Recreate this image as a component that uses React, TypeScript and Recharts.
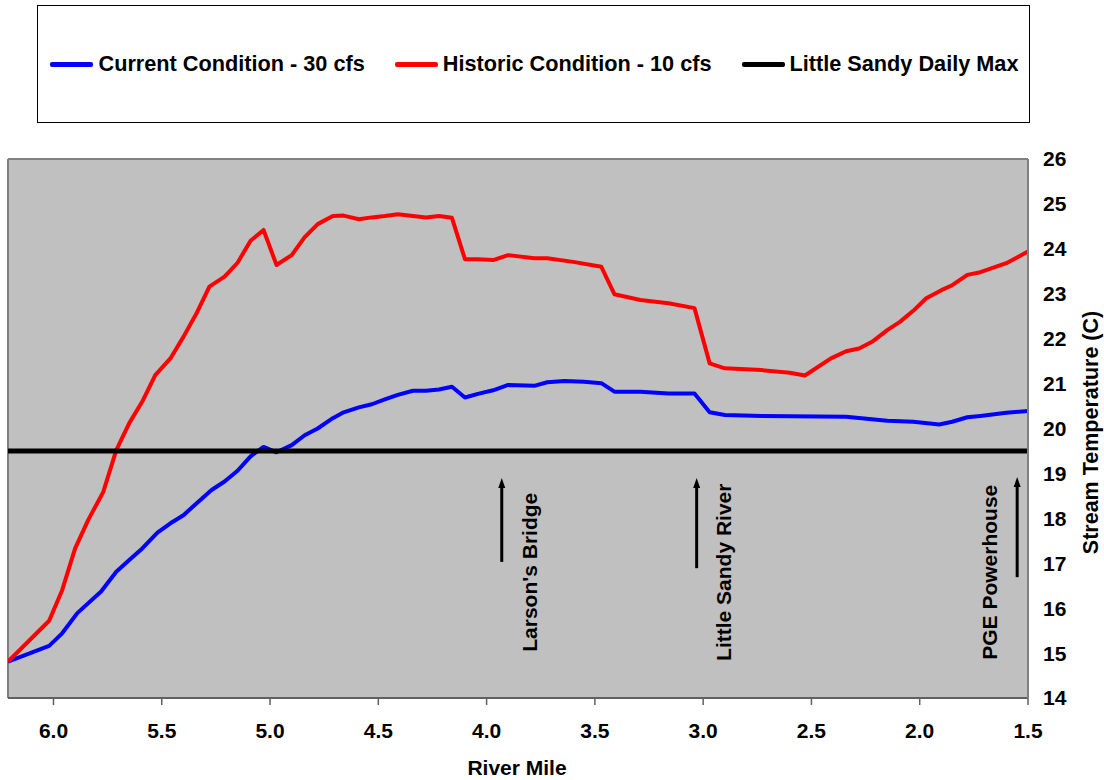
import React from 'react';
import { LineChart, Line, XAxis, YAxis, CartesianGrid, ReferenceLine, ReferenceDot, Legend } from 'recharts';

const seriesNames = ['Current Condition - 30 cfs', 'Historic Condition - 10 cfs', 'Little Sandy Daily Max'];
const seriesColors = ['#0000FF', '#FF0000', '#000000'];

const currentMiles = [6.21, 6.02, 5.96, 5.89, 5.78, 5.71, 5.65, 5.59, 5.52, 5.46, 5.40, 5.34, 5.27, 5.21, 5.15, 5.09, 5.03, 4.97, 4.90, 4.84, 4.78, 4.71, 4.66, 4.59, 4.53, 4.47, 4.41, 4.34, 4.28, 4.22, 4.16, 4.10, 4.04, 3.97, 3.90, 3.78, 3.72, 3.64, 3.55, 3.47, 3.41, 3.29, 3.16, 3.04, 2.97, 2.90, 2.73, 2.34, 2.15, 2.03, 1.91, 1.85, 1.78, 1.72, 1.60, 1.50];
const currentTemps = [14.81, 15.16, 15.44, 15.89, 16.37, 16.81, 17.07, 17.33, 17.68, 17.89, 18.07, 18.33, 18.63, 18.82, 19.06, 19.38, 19.59, 19.47, 19.63, 19.85, 20.00, 20.23, 20.36, 20.47, 20.54, 20.65, 20.75, 20.84, 20.84, 20.87, 20.93, 20.69, 20.77, 20.85, 20.97, 20.95, 21.03, 21.06, 21.04, 21.01, 20.82, 20.82, 20.78, 20.78, 20.36, 20.30, 20.28, 20.26, 20.17, 20.15, 20.09, 20.15, 20.25, 20.28, 20.35, 20.39];

const historicMiles = [6.21, 6.02, 5.96, 5.90, 5.84, 5.77, 5.71, 5.65, 5.59, 5.53, 5.46, 5.40, 5.34, 5.28, 5.21, 5.15, 5.09, 5.03, 4.97, 4.90, 4.84, 4.78, 4.71, 4.66, 4.59, 4.53, 4.47, 4.41, 4.34, 4.28, 4.22, 4.16, 4.10, 4.04, 3.97, 3.90, 3.78, 3.72, 3.60, 3.47, 3.41, 3.29, 3.16, 3.04, 2.97, 2.90, 2.73, 2.60, 2.53, 2.41, 2.34, 2.28, 2.22, 2.15, 2.09, 2.03, 1.97, 1.90, 1.85, 1.78, 1.72, 1.60, 1.50];
const historicTemps = [14.81, 15.72, 16.40, 17.33, 17.96, 18.59, 19.52, 20.12, 20.60, 21.19, 21.56, 22.04, 22.56, 23.16, 23.38, 23.69, 24.18, 24.42, 23.64, 23.86, 24.26, 24.55, 24.73, 24.74, 24.66, 24.70, 24.73, 24.77, 24.73, 24.70, 24.73, 24.69, 23.77, 23.77, 23.75, 23.86, 23.79, 23.79, 23.71, 23.60, 22.99, 22.86, 22.79, 22.68, 21.45, 21.34, 21.30, 21.24, 21.18, 21.56, 21.72, 21.78, 21.93, 22.19, 22.38, 22.62, 22.90, 23.08, 23.19, 23.42, 23.48, 23.68, 23.94];

const dailyMaxMiles = [6.21, 1.5];
const dailyMaxTemps = [19.5, 19.5];

const xTicks = [6.0, 5.5, 5.0, 4.5, 4.0, 3.5, 3.0, 2.5, 2.0, 1.5];
const yTicks = [14, 15, 16, 17, 18, 19, 20, 21, 22, 23, 24, 25, 26];

const landmarkNames = ["Larson's Bridge", 'Little Sandy River', 'PGE Powerhouse'];
const landmarkMiles = [3.93, 3.03, 1.55];
const arrowFromTemps = [17.03, 16.89, 16.69];
const arrowToTemps = [18.9, 18.9, 18.92];
const labelMiles = [3.80, 2.905, 1.68];
const labelTemp = 16.8;

const zip = (xs: number[], ys: number[]) => xs.map((m, i) => ({ mile: m, temp: ys[i] }));
const currentData = zip(currentMiles, currentTemps);
const historicData = zip(historicMiles, historicTemps);
const dailyMaxData = zip(dailyMaxMiles, dailyMaxTemps);

const FONT = '"Liberation Sans", Arial, sans-serif';

const ArrowShape = (props: any) => {
  const { x1, y1, y2 } = props;
  const x = x1;
  const bottom = Math.max(y1, y2);
  const top = Math.min(y1, y2);
  return (
    <g>
      <line x1={x} y1={bottom} x2={x} y2={top + 8} stroke="#000" strokeWidth={3} />
      <polygon points={`${x},${top} ${x - 3.5},${top + 10} ${x + 3.5},${top + 10}`} fill="#000" />
    </g>
  );
};

const makeLabelShape = (text: string) => (props: any) => {
  const { cx, cy } = props;
  return (
    <text
      x={cx}
      y={cy}
      transform={`rotate(-90, ${cx}, ${cy})`}
      textAnchor="middle"
      dominantBaseline="central"
      fontFamily={FONT}
      fontWeight="bold"
      fontSize={21}
      fill="#000"
    >
      {text}
    </text>
  );
};

const renderLegend = (props: any) => {
  const payload = props.payload || [];
  return (
    <div
      style={{
        width: '100%',
        height: '100%',
        display: 'flex',
        alignItems: 'center',
        justifyContent: 'center',
        boxSizing: 'border-box',
        border: '1px solid #000',
        fontFamily: FONT,
        fontWeight: 'bold',
        fontSize: 21.7,
        color: '#000',
        paddingLeft: 2,
      }}
    >
      {payload.map((entry: any, i: number) => (
        <div key={i} style={{ display: 'flex', alignItems: 'center', marginRight: i < payload.length - 1 ? 30 : 0 }}>
          <div style={{ width: 43, height: 5, background: entry.color, borderRadius: 2, marginRight: 5 }} />
          <span>{entry.value}</span>
        </div>
      ))}
    </div>
  );
};

export default function App() {
  return (
    <div style={{ position: 'absolute', left: 0, top: 0, width: 1104, height: 780, background: '#fff' }}>
      <LineChart width={1104} height={780} margin={{ top: 159, right: 0, bottom: 0, left: 8 }}>
        <CartesianGrid horizontal={false} vertical={false} fill="#C0C0C0" fillOpacity={1} stroke="none" />
        <XAxis
          type="number"
          dataKey="mile"
          domain={[1.5, 6.21]}
          reversed
          allowDataOverflow
          ticks={xTicks}
          interval={0}
          tickFormatter={(v: number) => v.toFixed(1)}
          height={82}
          tickSize={7}
          tickMargin={18}
          axisLine={{ stroke: '#606060', strokeWidth: 2 }}
          tickLine={{ stroke: '#606060', strokeWidth: 1.5 }}
          tick={{ fill: '#000', fontFamily: FONT, fontWeight: 'bold', fontSize: 21 }}
          label={{
            content: (p: any) => {
              const vb = p.viewBox;
              return (
                <text x={vb.x + vb.width / 2 - 1} y={775} textAnchor="middle" fontFamily={FONT} fontWeight="bold" fontSize={21} fill="#000">
                  River Mile
                </text>
              );
            },
          }}
        />
        <YAxis
          orientation="right"
          type="number"
          domain={[14, 26]}
          ticks={yTicks}
          interval={0}
          width={76}
          tickLine={false}
          tickSize={6}
          tickMargin={9}
          axisLine={{ stroke: '#808080', strokeWidth: 2 }}
          tick={{ fill: '#000', fontFamily: FONT, fontWeight: 'bold', fontSize: 21, textAnchor: 'start' }}
          label={{
            content: (p: any) => {
              const vb = p.viewBox;
              const cx = 1091;
              const cy = vb.y + vb.height / 2 + 4;
              return (
                <text x={cx} y={cy} transform={`rotate(-90, ${cx}, ${cy})`} textAnchor="middle" dominantBaseline="central" fontFamily={FONT} fontWeight="bold" fontSize={21.5} fill="#000">
                  Stream Temperature (C)
                </text>
              );
            },
          }}
        />
        <ReferenceLine y={26} stroke="#808080" strokeWidth={2} />
        <ReferenceLine x={6.21} stroke="#808080" strokeWidth={2} />
        <Legend
          layout="horizontal"
          verticalAlign="middle"
          align="center"
          content={renderLegend}
          wrapperStyle={{ left: 37, top: 5, width: 993, height: 118 }}
        />
        <Line data={currentData} dataKey="temp" name={seriesNames[0]} stroke={seriesColors[0]} strokeWidth={4} dot={false} activeDot={false} isAnimationActive={false} strokeLinejoin="round" />
        <Line data={historicData} dataKey="temp" name={seriesNames[1]} stroke={seriesColors[1]} strokeWidth={4} dot={false} activeDot={false} isAnimationActive={false} strokeLinejoin="round" />
        <Line data={dailyMaxData} dataKey="temp" name={seriesNames[2]} stroke={seriesColors[2]} strokeWidth={5} dot={false} activeDot={false} isAnimationActive={false} />
        {landmarkNames.map((name, i) => (
          <ReferenceLine
            key={`arrow-${i}`}
            segment={[{ x: landmarkMiles[i], y: arrowFromTemps[i] }, { x: landmarkMiles[i], y: arrowToTemps[i] }]}
            stroke="#000"
            shape={ArrowShape}
          />
        ))}
        {landmarkNames.map((name, i) => (
          <ReferenceDot key={`label-${i}`} x={labelMiles[i]} y={labelTemp} r={0} shape={makeLabelShape(name)} />
        ))}
      </LineChart>
    </div>
  );
}
